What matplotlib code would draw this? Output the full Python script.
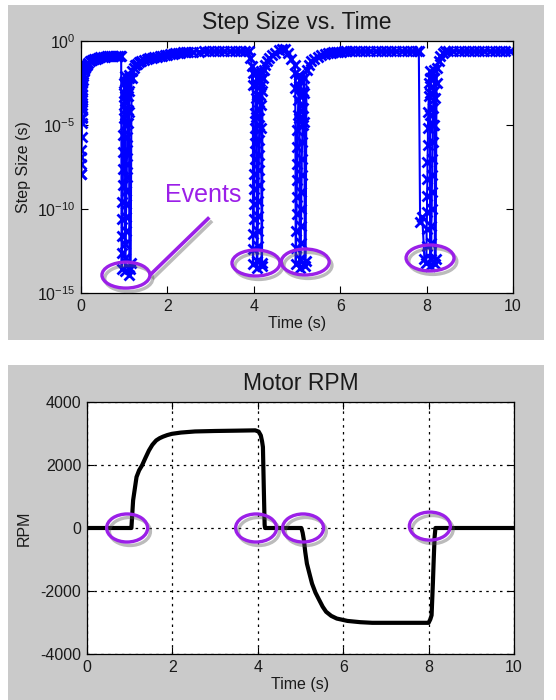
import matplotlib
matplotlib.use("Agg")
import matplotlib.pyplot as plt
import matplotlib.patheffects as pe
from matplotlib.patches import Ellipse, Rectangle
from matplotlib.lines import Line2D
import matplotlib.transforms as mtransforms

plt.rcParams['font.family'] = ['Liberation Sans', 'DejaVu Sans']
plt.rcParams['mathtext.fontset'] = 'custom'
plt.rcParams['mathtext.rm'] = 'Liberation Sans'
plt.rcParams['mathtext.it'] = 'Liberation Sans:italic'
plt.rcParams['mathtext.bf'] = 'Liberation Sans:bold'
plt.rcParams['axes.unicode_minus'] = False

# ---------------- data: step size trace (time s, log10 step size) ----------------
start_t = [0.00, 0.00, 0.01, 0.01, 0.01, 0.01, 0.02, 0.02, 0.02, 0.02, 0.02, 0.02, 0.02, 0.02,
           0.03, 0.03, 0.03, 0.03, 0.03, 0.04, 0.04, 0.05, 0.06, 0.07, 0.09, 0.11, 0.14, 0.17,
           0.21, 0.25, 0.30, 0.35, 0.40, 0.45, 0.50, 0.55, 0.60, 0.65, 0.70, 0.75, 0.80, 0.85,
           0.90, 0.93]
start_log = [-16, -7.9, -7.9, -7.3, -6.9, -6.5, -5.7, -4.9, -4.5, -4.1, -3.8, -3.5, -3.2, -2.9,
             -4.6, -4.0, -3.4, -2.7, -2.5, -2.3, -2.1, -1.95, -1.8, -1.7, -1.6, -1.5, -1.4, -1.3,
             -1.2, -1.15, -1.1, -1.05, -1.0, -0.97, -0.95, -0.93, -0.92, -0.92, -0.91, -0.9, -0.9,
             -0.9, -0.88, -0.88]

event1_t = [0.94, 0.95, 0.95, 0.96, 0.96, 0.97, 0.97, 0.98, 0.98, 0.99, 0.99, 1.00, 1.00, 1.01,
            1.01, 1.01, 1.02, 1.02, 1.02,
            1.02, 1.03, 1.03, 1.04, 1.04, 1.05, 1.05, 1.06, 1.06, 1.07, 1.07, 1.08, 1.08, 1.09,
            1.09, 1.10, 1.10, 1.11, 1.11, 1.12, 1.12, 1.13, 1.15, 1.17, 1.19, 1.22, 1.26, 1.30]
event1_log = [-13.6, -12.6, -11.6, -10.6, -9.6, -8.6, -7.6, -6.6, -5.6, -4.6, -3.8, -3.1, -2.5, -2.1,
              -4.4, -3.3, -2.4, -5.0, -3.6,
              -13.7, -12.9, -12.1, -11.3, -10.5, -9.7, -8.9, -8.1, -7.3, -6.5, -5.7, -4.9, -4.1, -3.3,
              -2.6, -2.0, -4.2, -3.0, -2.2, -13.5, -13.9, -13.6, -13.2, -2.2, -1.8, -1.6, -1.45,
              -1.35]

plateau2_t = [1.35, 1.40, 1.46, 1.52, 1.58, 1.64, 1.70, 1.76, 1.82, 1.88, 1.94, 2.00, 2.06, 2.12,
              2.18, 2.24, 2.30, 2.36, 2.42, 2.48, 2.60, 2.72, 2.84, 2.96, 3.08, 3.20, 3.32, 3.44,
              3.56, 3.68, 3.80, 3.88]
plateau2_log = [-1.25, -1.18, -1.12, -1.07, -1.03, -0.99, -0.96, -0.93, -0.9, -0.87, -0.84, -0.81,
                -0.78, -0.76, -0.74, -0.72, -0.7, -0.68, -0.67, -0.66, -0.64, -0.63, -0.62, -0.62,
                -0.62, -0.62, -0.62, -0.62, -0.62, -0.62, -0.62, -0.62]

event2_t = [3.92, 3.96, 3.97, 3.98, 3.98, 3.99, 3.99, 4.00, 4.00, 4.01, 4.01, 4.02, 4.02, 4.03,
            4.03, 4.04, 4.05, 4.06, 4.06, 4.07, 4.07,
            4.07, 4.08, 4.09, 4.09, 4.10, 4.10, 4.11, 4.11, 4.12, 4.12, 4.13, 4.13,
            4.14, 4.15, 4.16, 4.16, 4.17, 4.17, 4.18, 4.19, 4.20, 4.21, 4.23, 4.26, 4.30, 4.36,
            4.42, 4.50, 4.58, 4.65, 4.72]
event2_log = [-1.0, -1.5, -2.6, -1.9, -13.3, -12.4, -11.5, -10.6, -9.7, -8.8, -7.9, -7.0, -6.1, -5.2,
              -4.3, -3.4, -2.6, -1.9, -4.5, -3.2, -2.2,
              -13.5, -13.1, -12.2, -11.3, -10.4, -9.5, -8.6, -7.7, -6.8, -5.9, -5.0, -4.1,
              -3.2, -2.4, -1.8, -5.2, -3.8, -2.6, -13.2, -13.4, -3.0, -2.2, -1.7, -1.4, -1.2, -1.0,
              -0.85, -0.7, -0.55, -0.45, -0.5]

event3_t = [4.80, 4.87, 4.95, 4.96, 4.96, 4.97, 4.98, 4.98, 4.99, 4.99, 5.00, 5.00, 5.01, 5.01,
            5.02, 5.03, 5.04, 5.05, 5.05, 5.06, 5.06,
            5.06, 5.08, 5.09, 5.09, 5.10, 5.10, 5.11, 5.11, 5.12, 5.13, 5.14, 5.15, 5.16, 5.16,
            5.17, 5.18, 5.20, 5.22, 5.27, 5.33, 5.40, 5.48, 5.56, 5.65, 5.72, 5.78, 5.84, 5.90]
event3_log = [-0.7, -1.1, -1.4, -2.8, -1.9, -13.3, -12.3, -11.3, -10.3, -9.3, -8.3, -7.3, -6.3, -5.3,
              -4.4, -3.5, -2.7, -2.0, -4.6, -3.3, -2.3,
              -13.5, -13.0, -12.0, -11.0, -10.0, -9.0, -8.0, -7.0, -6.0, -5.0, -4.0, -3.0, -2.2, -4.8,
              -3.1, -13.4, -13.1, -1.7, -1.4, -1.2, -1.05, -0.95, -0.85, -0.77, -0.72, -0.69, -0.67,
              -0.65]

plateau3_t = [5.96, 6.02, 6.08, 6.14, 6.22, 6.34, 6.46, 6.58, 6.70, 6.82, 6.94, 7.06, 7.18, 7.30,
              7.42, 7.54, 7.66, 7.78]
plateau3_log = [-0.64, -0.63, -0.62, -0.62, -0.62, -0.62, -0.62, -0.62, -0.62, -0.62, -0.62, -0.62,
                -0.62, -0.62, -0.62, -0.62, -0.62, -0.62]

event4_t = [7.82, 7.85, 7.90, 7.95, 7.99, 8.00, 8.00, 8.01, 8.01, 8.02, 8.02, 8.03, 8.03, 8.04,
            8.05, 8.06, 8.07, 8.07, 8.08, 8.08,
            8.08, 8.10, 8.11, 8.11, 8.12, 8.12, 8.13, 8.13, 8.14, 8.14, 8.15,
            8.16, 8.17, 8.18, 8.18, 8.19, 8.19, 8.21, 8.23, 8.25, 8.28, 8.32, 8.37, 8.43]
event4_log = [-0.62, -10.8, -10.5, -13.0, -13.2, -12.2, -11.2, -10.2, -9.2, -8.2, -7.2, -6.2, -5.2,
              -4.2, -3.3, -2.5, -1.8, -4.4, -3.1, -2.2,
              -13.4, -13.0, -12.0, -11.0, -10.0, -9.0, -8.0, -7.0, -6.0, -5.0, -4.0,
              -3.0, -2.2, -1.7, -5.0, -3.4, -13.3, -13.0, -2.5, -1.6, -1.2, -0.9, -0.7, -0.6]

plateau4_t = [8.50, 8.62, 8.74, 8.86, 8.98, 9.10, 9.22, 9.34, 9.46, 9.58, 9.70, 9.82, 9.92]
plateau4_log = [-0.6, -0.6, -0.6, -0.6, -0.6, -0.6, -0.6, -0.6, -0.6, -0.6, -0.6, -0.6, -0.6]

# ---------------- data: motor speed ----------------
rpm_t = [0.0, 0.5, 1.0, 1.04, 1.08, 1.12, 1.16, 1.22, 1.29, 1.37, 1.45, 1.53, 1.62, 1.70, 1.78,
         1.88, 1.99, 2.2, 2.53, 3.0, 3.5, 3.94, 4.02, 4.07, 4.10, 4.12, 4.14, 4.16, 4.17, 4.5,
         5.02, 5.05, 5.08, 5.11, 5.15, 5.21, 5.27, 5.35, 5.44, 5.52, 5.60, 5.72, 5.85, 6.1,
         6.4, 6.68, 7.3, 8.0, 8.04, 8.07, 8.10, 8.12, 8.14, 8.16, 8.5, 9.0, 10.0]
rpm = [0, 0, 0, 0, 880, 1250, 1620, 1830, 1990, 2230, 2460, 2640, 2780, 2850, 2900, 2950,
       2990, 3030, 3065, 3080, 3090, 3100, 3060, 2940, 2750, 2570, 1300, 100, 0, 0,
       0, -150, -390, -750, -1130, -1450, -1765, -2050, -2290, -2500, -2660, -2790, -2875, -2950,
       -2990, -3010, -3010, -3010, -2900, -2770, -1765, -1000, -300, 0, 0, 0, 0]

step_t = start_t + event1_t + plateau2_t + event2_t + event3_t + plateau3_t + event4_t + plateau4_t
step_log = start_log + event1_log + plateau2_log + event2_log + event3_log + plateau3_log + event4_log + plateau4_log
step_h = [10.0 ** v for v in step_log]

# annotation positions
top_ellipse_t = [1.04, 4.05, 5.19, 8.08]
top_ellipse_yfrac = [0.071, 0.119, 0.123, 0.139]
bot_ellipse_t = [0.94, 3.96, 5.06, 8.03]
bot_ellipse_rpm = [0, 0, 0, 60]

W, H = 556, 700
fig = plt.figure(figsize=(W / 100, H / 100), dpi=100)
fig.patch.set_facecolor('white')

gray = '#CACACA'
fig.add_artist(Rectangle((8 / W, 1 - 340 / H), 536 / W, 335 / H, transform=fig.transFigure,
                         facecolor=gray, edgecolor='none', zorder=-10))
fig.add_artist(Rectangle((8 / W, 0), 536 / W, 335 / H, transform=fig.transFigure,
                         facecolor=gray, edgecolor='none', zorder=-10))

txt = '#1a1a1a'
purple = '#9B1FE8'
shadow = [pe.SimpleLineShadow(offset=(2, -2.5), shadow_color='#555555', alpha=0.4), pe.Normal()]

def style_axes(ax):
    ax.tick_params(direction='in', top=True, right=True, length=5, width=0.8,
                   labelsize=11.5, colors='black', labelcolor=txt, pad=4)
    for s in ax.spines.values():
        s.set_linewidth(0.9)
        s.set_color('black')

# ---------------- top axes ----------------
ax1 = fig.add_axes([81 / W, 1 - 293 / H, 432 / W, 252 / H])
ax1.set_yscale('log')
ax1.plot(step_t, step_h, color='#0000FF', linewidth=1.5, marker='x', markersize=7,
         markeredgewidth=2.0)
ax1.set_xlim(0, 10)
ax1.set_ylim(1e-15, 1e0)
ax1.set_xticks([0, 2, 4, 6, 8, 10])
ax1.set_yticks([1e0, 1e-5, 1e-10, 1e-15])
ax1.minorticks_off()
style_axes(ax1)
ax1.set_title('Step Size vs. Time', fontsize=16.5, color=txt, pad=9)
ax1.set_xlabel('Time (s)', fontsize=11.5, color=txt, labelpad=2)
ax1.set_ylabel('Step Size (s)', fontsize=11.5, color=txt, labelpad=4)

bt1 = mtransforms.blended_transform_factory(ax1.transData, ax1.transAxes)
for t, yf in zip(top_ellipse_t, top_ellipse_yfrac):
    e = Ellipse((t, yf), 1.11, 0.103, transform=bt1, fill=False, edgecolor=purple,
                linewidth=2.4, zorder=5, clip_on=False, path_effects=shadow)
    ax1.add_patch(e)
ax1.text(1.95, 0.39, 'Events', transform=bt1, color=purple, fontsize=18, ha='left', va='center')
ax1.add_line(Line2D([2.94, 1.62], [0.295, 0.075], transform=bt1, color=purple, linewidth=2.6,
                    zorder=5, path_effects=shadow))

# ---------------- bottom axes ----------------
ax2 = fig.add_axes([87 / W, 1 - 654 / H, 427 / W, 252 / H])
ax2.plot(rpm_t, rpm, color='black', linewidth=3.0, solid_joinstyle='round')
ax2.set_xlim(0, 10)
ax2.set_ylim(-4000, 4000)
ax2.set_xticks([0, 2, 4, 6, 8, 10])
ax2.set_yticks([-4000, -2000, 0, 2000, 4000])
ax2.grid(True, color='black', linestyle=(0, (2, 3.5)), linewidth=0.9)
style_axes(ax2)
ax2.set_title('Motor RPM', fontsize=16.5, color=txt, pad=9)
ax2.set_xlabel('Time (s)', fontsize=11.5, color=txt, labelpad=2)
ax2.set_ylabel('RPM', fontsize=11.5, color=txt, labelpad=6)

for t, r in zip(bot_ellipse_t, bot_ellipse_rpm):
    e = Ellipse((t, r), 0.96, 890, fill=False, edgecolor=purple, linewidth=2.4, zorder=5,
                clip_on=False, path_effects=shadow)
    ax2.add_patch(e)

fig.savefig('out.png', dpi=100, facecolor='white')
